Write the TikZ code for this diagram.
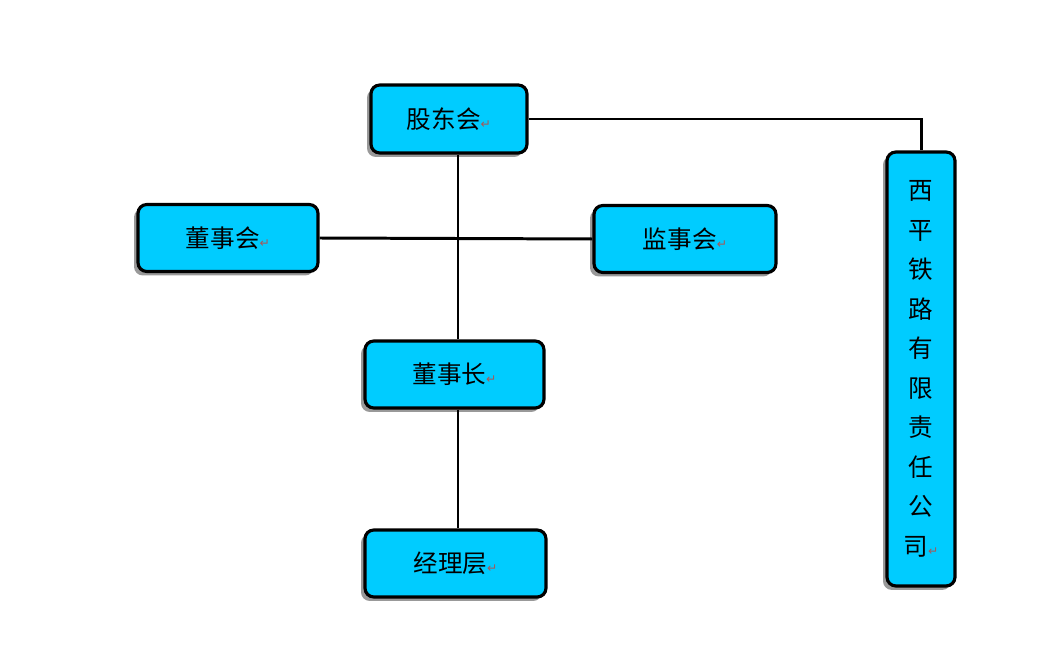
\documentclass[tikz,border=0pt]{standalone}
\usepackage{fontspec}
\usepackage{xcolor}
\usepackage{tikz}
\usetikzlibrary{shadows, positioning}
\setmainfont{Noto Sans CJK SC}
\newfontfamily\symfont{DejaVu Sans}
\definecolor{boxcyan}{HTML}{00CCFF}
% paragraph mark after each label
\newcommand{\pmark}{{\symfont\fontsize{7}{7}\selectfont\color{gray!70!red}↵}}

\begin{document}
\begin{tikzpicture}[
    x=0.02cm, y=-0.02cm,
    orgbox/.style={rectangle, draw, line width=1.8pt, rounded corners=5pt,
                   fill=boxcyan, inner sep=0pt, align=center,
                   font=\fontsize{14}{22.5}\selectfont,
                   drop shadow={shadow xshift=-0.08cm, shadow yshift=-0.08cm,
                                fill=black!50, opacity=0.8}},
    link/.style={line width=1.7pt},
]
    \useasboundingbox (0,0) rectangle (1038,658);

    % Shareholders' meeting
    \node[orgbox, minimum width=3.12cm, minimum height=1.36cm] (gdh) at (449,119) {股东会\pmark};

    % Board of directors and supervisors
    \node[orgbox, minimum width=3.6cm, minimum height=1.34cm] (dsh) at (228,238) {董事会\pmark};
    \node[orgbox, minimum width=3.64cm, minimum height=1.34cm] (jsh) at (685,239) {监事会\pmark};

    % Chairman
    \node[orgbox, minimum width=3.58cm, minimum height=1.34cm] (dsz) at (454.5,374.5) {董事长\pmark};

    % Management
    \node[orgbox, minimum width=3.62cm, minimum height=1.34cm] (jlc) at (455.5,563.5) {经理层\pmark};

    % Railway company (vertical text)
    \node[orgbox, minimum width=1.36cm, minimum height=8.68cm] (xpt) at (921,369)
        {西\\平\\铁\\路\\有\\限\\责\\任\\公\\司\pmark};

    % Spine
    \coordinate (spine) at (458,0);

    % Connectors
    \draw[link] (gdh.south -| spine) -- (dsz.north -| spine);
    \draw[link] (dsh.east) -- (jsh.west);
    \draw[link] (dsz.south -| spine) -- (jlc.north -| spine);
    \draw[link] (gdh.east) -| (xpt.north);
\end{tikzpicture}
\end{document}
